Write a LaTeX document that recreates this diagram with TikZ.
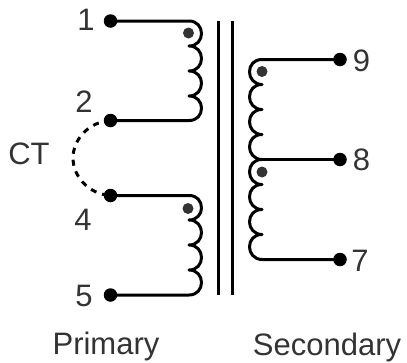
\documentclass[tikz,border=0pt]{standalone}
\usepackage{fontspec}
\setmainfont{Liberation Sans}
\tikzset{
  terminal/.style={circle,fill=black,inner sep=0pt,minimum size=13.5pt},
  polarity/.style={circle,fill=black!80,inner sep=0pt,minimum size=11pt},
  wire/.style={line width=3pt,line cap=round,line join=round},
  lab/.style={font=\fontsize{31}{31}\selectfont,text=black!80,inner sep=0pt,anchor=base},
  ctwire/.style={line width=3pt,dash pattern=on 6pt off 6pt}
}
\begin{document}
\begin{tikzpicture}[x=1pt,y=-1pt]
\useasboundingbox (0,0) rectangle (407,362);
% core
\draw[line width=3pt] (218.5,21) -- (218.5,295);
\draw[line width=3pt] (232.5,21) -- (232.5,295);
% terminals
\node[terminal] (t1) at (110.5,21) {};
\node[terminal] (t2) at (110.5,120.5) {};
\node[terminal] (t4) at (110.5,195.5) {};
\node[terminal] (t5) at (110.5,295) {};
\node[terminal] (t9) at (340,59.5) {};
\node[terminal] (t8) at (340,159.5) {};
\node[terminal] (t7) at (340,259.5) {};
% CT link
\draw[ctwire] (t2.center) .. controls (88,122) and (73,140) .. (73,158) .. controls (73,176) and (88,194) .. (t4.center);
% primary upper
\draw[wire] (t1.center) -- (189,21)
  .. controls (197,21) and (201.5,27) .. (201.5,33.5) .. controls (201.5,40) and (197,46) .. (189,46)
  .. controls (197,46) and (201.5,52) .. (201.5,58.5) .. controls (201.5,65) and (197,71) .. (189,71)
  .. controls (197,71) and (201.5,77) .. (201.5,83) .. controls (201.5,90) and (197,96) .. (189,96)
  .. controls (197,96) and (201.5,102) .. (201.5,108) .. controls (201.5,115) and (197,120.5) .. (189,120.5)
  -- (t2.center);
% primary lower
\draw[wire] (t4.center) -- (189,195.5)
  .. controls (197,195.5) and (201.5,201) .. (201.5,208) .. controls (201.5,214) and (197,220) .. (189,220)
  .. controls (197,220) and (201.5,226) .. (201.5,232.5) .. controls (201.5,239) and (197,245) .. (189,245)
  .. controls (197,245) and (201.5,251) .. (201.5,257.5) .. controls (201.5,264) and (197,270) .. (189,270)
  .. controls (197,270) and (201.5,276) .. (201.5,282.5) .. controls (201.5,289) and (197,295) .. (189,295)
  -- (t5.center);
% secondary upper
\draw[wire] (t9.center) -- (262,59.5)
  .. controls (254,59.5) and (249.5,65) .. (249.5,72) .. controls (249.5,78) and (254,84.5) .. (262,84.5)
  .. controls (254,84.5) and (249.5,90) .. (249.5,97) .. controls (249.5,103) and (254,109.5) .. (262,109.5)
  .. controls (254,109.5) and (249.5,115) .. (249.5,122) .. controls (249.5,128) and (254,134.5) .. (262,134.5)
  .. controls (254,134.5) and (249.5,140) .. (249.5,147) .. controls (249.5,153) and (254,159.5) .. (262,159.5);
\draw[wire] (262,159.5) -- (t8.center);
% secondary lower
\draw[wire] (262,159.5)
  .. controls (254,159.5) and (249.5,165) .. (249.5,172) .. controls (249.5,178) and (254,184.5) .. (262,184.5)
  .. controls (254,184.5) and (249.5,190) .. (249.5,197) .. controls (249.5,203) and (254,209.5) .. (262,209.5)
  .. controls (254,209.5) and (249.5,215) .. (249.5,222) .. controls (249.5,228) and (254,234.5) .. (262,234.5)
  .. controls (254,234.5) and (249.5,240) .. (249.5,247) .. controls (249.5,253) and (254,259.5) .. (262,259.5)
  -- (t7.center);
% polarity dots
\node[polarity] (d1) at (188.5,33) {};
\node[polarity] (d2) at (188,208.5) {};
\node[polarity] (d3) at (262,71.5) {};
\node[polarity] (d4) at (262,172) {};
% labels
\node[lab] (l1) at (86,30) {1};
\node[lab] (l2) at (84,112) {2};
\node[lab] (l4) at (83,230) {4};
\node[lab] (l5) at (84,306) {5};
\node[lab] (l9) at (361.5,71) {9};
\node[lab] (l8) at (361.5,170) {8};
\node[lab] (l7) at (360,271) {7};
\node[lab] (lct) at (29,164) {CT};
\node[lab] (lp) at (106,354) {Primary};
\node[lab] (ls) at (327,355) {Secondary};
\end{tikzpicture}
\end{document}
